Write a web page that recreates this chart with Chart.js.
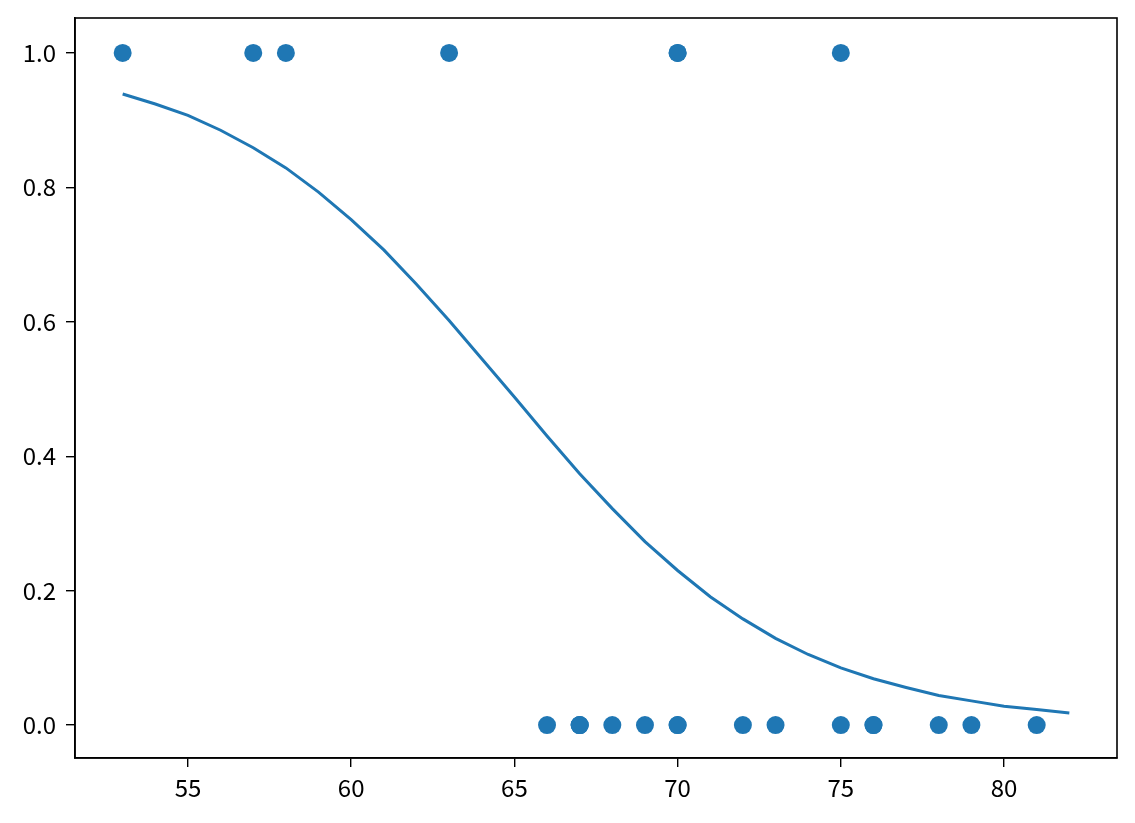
<!DOCTYPE html>
<html>
<head>
<meta charset="utf-8">
<script src="https://cdn.jsdelivr.net/npm/chart.js@4/dist/chart.umd.min.js"></script>
<style>
  html, body { margin: 0; padding: 0; background: #fff; }
  #wrap { width: 1135px; height: 823px; }
</style>
</head>
<body>
<div id="wrap"><canvas id="c" width="1135" height="823"></canvas></div>
<script>
// observed launches: temperature vs. damage (0/1)
const temps  = [53, 57, 58, 63, 66, 67, 67, 67, 68, 69, 70, 70, 70, 70, 72, 73, 75, 75, 76, 76, 78, 79, 81];
const damage = [1, 1, 1, 1, 0, 0, 0, 0, 0, 0, 0, 0, 1, 1, 0, 0, 0, 1, 0, 0, 0, 0, 0];

// fitted curve
const curveX = [53, 54, 55, 56, 57, 58, 59, 60, 61, 62, 63, 64, 65, 66, 67,
                68, 69, 70, 71, 72, 73, 74, 75, 76, 77, 78, 79, 80, 81, 82];
const curveY = [0.939, 0.924, 0.907, 0.885, 0.859, 0.829, 0.793, 0.752, 0.707, 0.656,
                0.602, 0.545, 0.488, 0.430, 0.374, 0.322, 0.273, 0.230, 0.191, 0.158,
                0.129, 0.105, 0.085, 0.069, 0.056, 0.044, 0.036, 0.028, 0.023, 0.018];

const xTicks = [55, 60, 65, 70, 75, 80];
const yTicks = [0.0, 0.2, 0.4, 0.6, 0.8, 1.0];

const blue = '#1f77b4';
const tickFont = { family: "'Noto Sans CJK KR', 'Noto Sans', sans-serif", size: 24 };

// box around the plot area
const frame = {
  id: 'frame',
  afterDraw(chart) {
    const { ctx, chartArea: a } = chart;
    ctx.save();
    ctx.strokeStyle = '#000';
    ctx.lineWidth = 1.6;
    ctx.strokeRect(a.left, a.top, a.right - a.left, a.bottom - a.top);
    ctx.restore();
  }
};

new Chart(document.getElementById('c'), {
  type: 'scatter',
  data: {
    datasets: [
      {
        data: temps.map((t, i) => ({ x: t, y: damage[i] })),
        backgroundColor: blue,
        borderColor: blue,
        pointRadius: 9,
        pointHoverRadius: 9,
        borderWidth: 0
      },
      {
        type: 'line',
        data: curveX.map((t, i) => ({ x: t, y: curveY[i] })),
        borderColor: blue,
        borderWidth: 3,
        pointRadius: 0,
        fill: false,
        tension: 0
      }
    ]
  },
  options: {
    responsive: false,
    animation: false,
    devicePixelRatio: 1,
    layout: { padding: { top: 18, right: 18, left: 0, bottom: 0 } },
    plugins: { legend: { display: false }, tooltip: { enabled: false } },
    scales: {
      x: {
        type: 'linear',
        min: 51.54,
        max: 83.46,
        afterBuildTicks: s => { s.ticks = xTicks.map(v => ({ value: v })); },
        afterFit: s => { s.height = 65; s.paddingLeft = 0; s.paddingRight = 0; },
        grid: { drawOnChartArea: false, drawTicks: true, tickLength: 9, color: '#000', lineWidth: 1.4 },
        border: { color: '#000', width: 1.6 },
        ticks: { color: '#000', font: tickFont, padding: 6, maxRotation: 0 }
      },
      y: {
        type: 'linear',
        min: -0.049,
        max: 1.052,
        afterBuildTicks: s => { s.ticks = yTicks.map(v => ({ value: v })); },
        afterFit: s => { s.width = 75; s.paddingTop = 0; s.paddingBottom = 0; },
        grid: { drawOnChartArea: false, drawTicks: true, tickLength: 9, color: '#000', lineWidth: 1.4 },
        border: { color: '#000', width: 1.6 },
        ticks: { color: '#000', font: tickFont, padding: 10, callback: v => v.toFixed(1) }
      }
    }
  },
  plugins: [frame]
});
</script>
</body>
</html>
